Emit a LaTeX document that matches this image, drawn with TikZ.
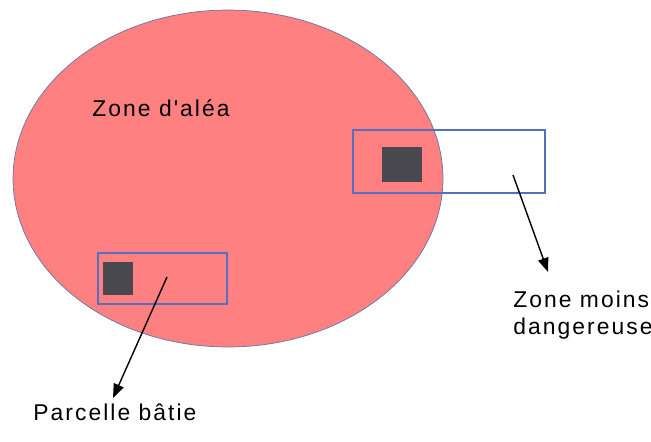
\documentclass[tikz,border=0pt]{standalone}
\usepackage{fontspec}
\setmainfont{Liberation Sans}
\newfontfamily\lblfont[LetterSpace=9]{Liberation Sans}
\usepackage{xcolor}
\usepackage{tikz}
\usetikzlibrary{shapes.geometric, arrows.meta, positioning}

\definecolor{zonered}{HTML}{FF8080}
\definecolor{frameblue}{HTML}{5570C0}
\definecolor{batigray}{HTML}{48484E}

\begin{document}
\begin{tikzpicture}[x=0.02cm, y=-0.02cm,
        zone/.style={ellipse, draw=frameblue!60!gray, fill=zonered, minimum width=8.6cm, minimum height=6.74cm, inner sep=0pt},
        parcel/.style={rectangle, draw=frameblue, line width=0.7pt, inner sep=0pt},
        bati/.style={rectangle, fill=batigray, inner sep=0pt},
        label/.style={font=\lblfont\fontsize{13}{15.3}\selectfont, align=left, inner sep=0pt},
        pointer/.style={-{Triangle[length=8pt, width=6pt]}, thick, draw=black}
    ]
        \useasboundingbox (0,0) rectangle (651,441);

        % Zone d'alea
        \node[zone] (alea) at (228, 178.5) {};
        \node[label] (aleatext) at (161, 108) {Zone d'aléa};

        % Parcelles
        \node[parcel, minimum width=3.84cm, minimum height=1.26cm] (parc1) at (449, 161.5) {};
        \node[parcel, minimum width=2.58cm, minimum height=1.02cm] (parc2) at (162.5, 278.5) {};

        % Batiments
        \node[bati, minimum width=0.8cm, minimum height=0.7cm] (bat1) at (402, 164.5) {};
        \node[bati, minimum width=0.6cm, minimum height=0.66cm] (bat2) at (118, 278.5) {};

        % Labels
        \node[label, anchor=north west] (moins) at (513, 291) {Zone moins\\dangereuse};
        \node[label, anchor=west] (batie) at (33, 412) {Parcelle bâtie};

        % Arrows
        \coordinate (tip1) at (548, 272);
        \coordinate (tip2) at (113, 398);
        \draw[pointer] (513, 175) -- (tip1);
        \draw[pointer] (167, 277) -- (tip2);

    \end{tikzpicture}
\end{document}
